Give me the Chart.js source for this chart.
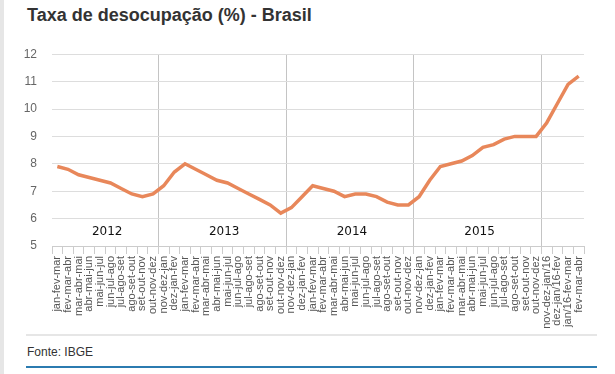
<!DOCTYPE html>
<html>
<head>
<meta charset="utf-8">
<script src="https://cdn.jsdelivr.net/npm/chart.js@4"></script>
<style>
  body { margin: 0; background: #fff; width: 615px; height: 374px; overflow: hidden; position: relative; font-family: "Liberation Sans", Arial, sans-serif; }
  .strip { position: absolute; left: 0; top: 0; width: 4px; height: 374px; background: #e6e6e6; }
  h1 { position: absolute; left: 27px; top: 5px; margin: 0; font-size: 18px; font-weight: bold; color: #333; }
  .chart-box { position: absolute; left: 0; top: 32px; width: 615px; height: 298px; }
  .sep { position: absolute; left: 26px; top: 334px; width: 571px; height: 2px; background: #e6e6e6; }
  .fonte { position: absolute; left: 27px; top: 345px; font-size: 12px; color: #333; }
  .blue { position: absolute; left: 26px; top: 366px; width: 571px; height: 2px; background: #2b7bb0; }
</style>
</head>
<body>
<div class="strip"></div>
<h1>Taxa de desocupação (%) - Brasil</h1>
<div class="chart-box"><canvas id="chartDesocupacao"></canvas></div>
<div class="sep"></div>
<div class="fonte">Fonte: IBGE</div>
<div class="blue"></div>

<script>
// trimestres moveis
const trimestres = [
  'jan-fev-mar', 'fev-mar-abr', 'mar-abr-mai', 'abr-mai-jun', 'mai-jun-jul', 'jun-jul-ago', 'jul-ago-set', 'ago-set-out', 'set-out-nov', 'out-nov-dez',
  'nov-dez-jan', 'dez-jan-fev', 'jan-fev-mar', 'fev-mar-abr', 'mar-abr-mai', 'abr-mai-jun', 'mai-jun-jul', 'jun-jul-ago', 'jul-ago-set', 'ago-set-out', 'set-out-nov', 'out-nov-dez',
  'nov-dez-jan', 'dez-jan-fev', 'jan-fev-mar', 'fev-mar-abr', 'mar-abr-mai', 'abr-mai-jun', 'mai-jun-jul', 'jun-jul-ago', 'jul-ago-set', 'ago-set-out', 'set-out-nov', 'out-nov-dez',
  'nov-dez-jan', 'dez-jan-fev', 'jan-fev-mar', 'fev-mar-abr', 'mar-abr-mai', 'abr-mai-jun', 'mai-jun-jul', 'jun-jul-ago', 'jul-ago-set', 'ago-set-out', 'set-out-nov', 'out-nov-dez',
  'nov-dez-jan/16', 'dez-jan/16-fev', 'jan/16-fev-mar', 'fev-mar-abr'
];

const taxa = [
  7.9, 7.8, 7.6, 7.5, 7.4, 7.3, 7.1, 6.9, 6.8, 6.9,
  7.2, 7.7, 8.0, 7.8, 7.6, 7.4, 7.3, 7.1, 6.9, 6.7, 6.5, 6.2,
  6.4, 6.8, 7.2, 7.1, 7.0, 6.8, 6.9, 6.9, 6.8, 6.6, 6.5, 6.5,
  6.8, 7.4, 7.9, 8.0, 8.1, 8.3, 8.6, 8.7, 8.9, 9.0, 9.0, 9.0,
  9.5, 10.2, 10.9, 11.2
];

// anos: rotulo, primeiro e ultimo indice
const anos = ['2012', '2013', '2014', '2015'];
const anoInicio = [0, 10, 22, 34];
const anoFim = [9, 21, 33, 45];
const divisoesAno = [10, 22, 34, 46];

const yTicks = [5, 6, 7, 8, 9, 10, 11, 12];

// escreve os anos dentro da area do grafico
const yearLabels = {
  id: 'yearLabels',
  afterDatasetsDraw(chart) {
    const { ctx, scales: { x, y } } = chart;
    ctx.save();
    ctx.font = '12px "DejaVu Sans"';
    ctx.fillStyle = '#111';
    ctx.textAlign = 'center';
    ctx.textBaseline = 'middle';
    anos.forEach((a, i) => {
      const cx = (x.getPixelForValue(anoInicio[i]) + x.getPixelForValue(anoFim[i])) / 2 + 2;
      ctx.fillText(a, cx, y.getPixelForValue(5.53));
    });
    ctx.restore();
  }
};

new Chart(document.getElementById('chartDesocupacao'), {
  type: 'line',
  data: {
    labels: trimestres,
    datasets: [{
      data: taxa,
      borderColor: '#e8875a',
      borderWidth: 3.5,
      pointRadius: 0,
      tension: 0,
      fill: false
    }]
  },
  options: {
    responsive: true,
    maintainAspectRatio: false,
    animation: false,
    layout: { padding: { top: 14, right: 31, left: 0, bottom: 0 } },
    plugins: { legend: { display: false }, tooltip: { enabled: false } },
    scales: {
      x: {
        offset: true,
        afterFit: (s) => { s.height = 84; },
        border: { color: '#cccccc' },
        grid: {
          offset: true,
          color: (c) => divisoesAno.includes(c.index) ? '#c4c4c4' : 'rgba(0,0,0,0)',
          tickColor: '#cccccc',
          tickLength: 8
        },
        ticks: {
          autoSkip: false,
          minRotation: 90,
          maxRotation: 90,
          padding: 2,
          color: '#555',
          font: { family: '"Liberation Sans", Arial', size: 11 }
        }
      },
      y: {
        min: 5,
        max: 12,
        afterFit: (s) => { s.width = 52; },
        afterBuildTicks: (s) => { s.ticks = yTicks.map(v => ({ value: v })); },
        border: { display: false },
        grid: { color: '#dddddd', drawTicks: false },
        ticks: {
          padding: 15,
          color: '#666',
          font: { family: '"Liberation Sans", Arial', size: 12 }
        }
      }
    }
  },
  plugins: [yearLabels]
});
</script>
</body>
</html>
